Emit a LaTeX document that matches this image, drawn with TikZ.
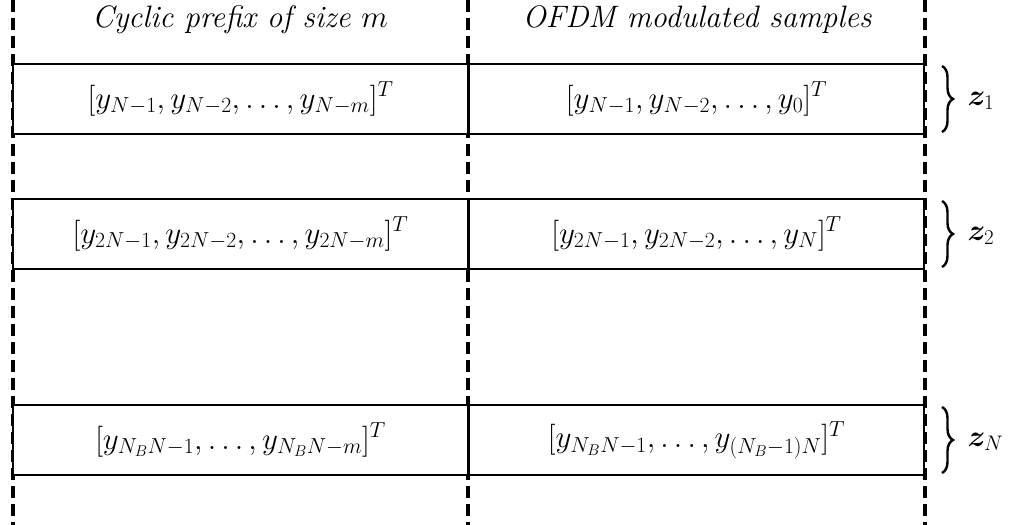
\RequirePackage{fix-cm}
\documentclass[tikz,border=0pt]{standalone}
\usepackage{amsmath,bm}
\usetikzlibrary{decorations.pathreplacing}
\begin{document}
\begin{tikzpicture}[x=1pt,y=-1pt,
  cell/.style={draw,fill=white,line width=2.5pt,minimum width=455pt,minimum height=70pt,inner sep=0pt,font=\fontsize{31}{36}\selectfont},
  divider/.style={line width=3.4pt,dash pattern=on 12pt off 6pt},
  hdr/.style={font=\fontsize{31}{36}\selectfont\itshape},
  brc/.style={decorate,decoration={brace,amplitude=11pt},line width=2.4pt},
  zlab/.style={font=\fontsize{30}{34}\selectfont,anchor=west}]
\useasboundingbox (0,0) rectangle (1029,525);
\coordinate (t1) at (13,0); \coordinate (b1) at (13,525);
\coordinate (t2) at (468,0); \coordinate (b2) at (468,525);
\coordinate (t3) at (925,0); \coordinate (b3) at (925,525);
\draw[divider] (t1) -- (b1);
\draw[divider] (t2) -- (b2);
\draw[divider] (t3) -- (b3);
\node[hdr] (h1) at (240,20) {Cyclic prefix of size $m$};
\node[hdr] (h2) at (697,20) {OFDM modulated samples};
\node[cell] (a1) at (240.5,99) {$[y_{N-1}, y_{N-2}, \dots, y_{N-m}]^T$};
\node[cell] (b1n) at (696.5,99) {$[y_{N-1}, y_{N-2}, \dots, y_{0}]^T$};
\node[cell] (a2) at (240.5,234) {$[y_{2N-1}, y_{2N-2}, \dots, y_{2N-m}]^T$};
\node[cell] (b2n) at (696.5,234) {$[y_{2N-1}, y_{2N-2}, \dots, y_{N}]^T$};
\node[cell] (a3) at (240.5,440) {$[y_{N_BN-1}, \dots, y_{N_BN-m}]^T$};
\node[cell] (b3n) at (696.5,440) {$[y_{N_BN-1}, \dots, y_{(N_B-1)N}]^T$};
\coordinate (r1t) at (942,66); \coordinate (r1b) at (942,132);
\coordinate (r2t) at (942,201); \coordinate (r2b) at (942,267);
\coordinate (r3t) at (942,407); \coordinate (r3b) at (942,473);
\draw[brc] (r1t) -- (r1b);
\draw[brc] (r2t) -- (r2b);
\draw[brc] (r3t) -- (r3b);
\node[zlab] (z1) at (964,101) {$\bm{z}_1$};
\node[zlab] (z2) at (964,236) {$\bm{z}_2$};
\node[zlab] (z3) at (964,442) {$\bm{z}_N$};
\end{tikzpicture}
\end{document}
